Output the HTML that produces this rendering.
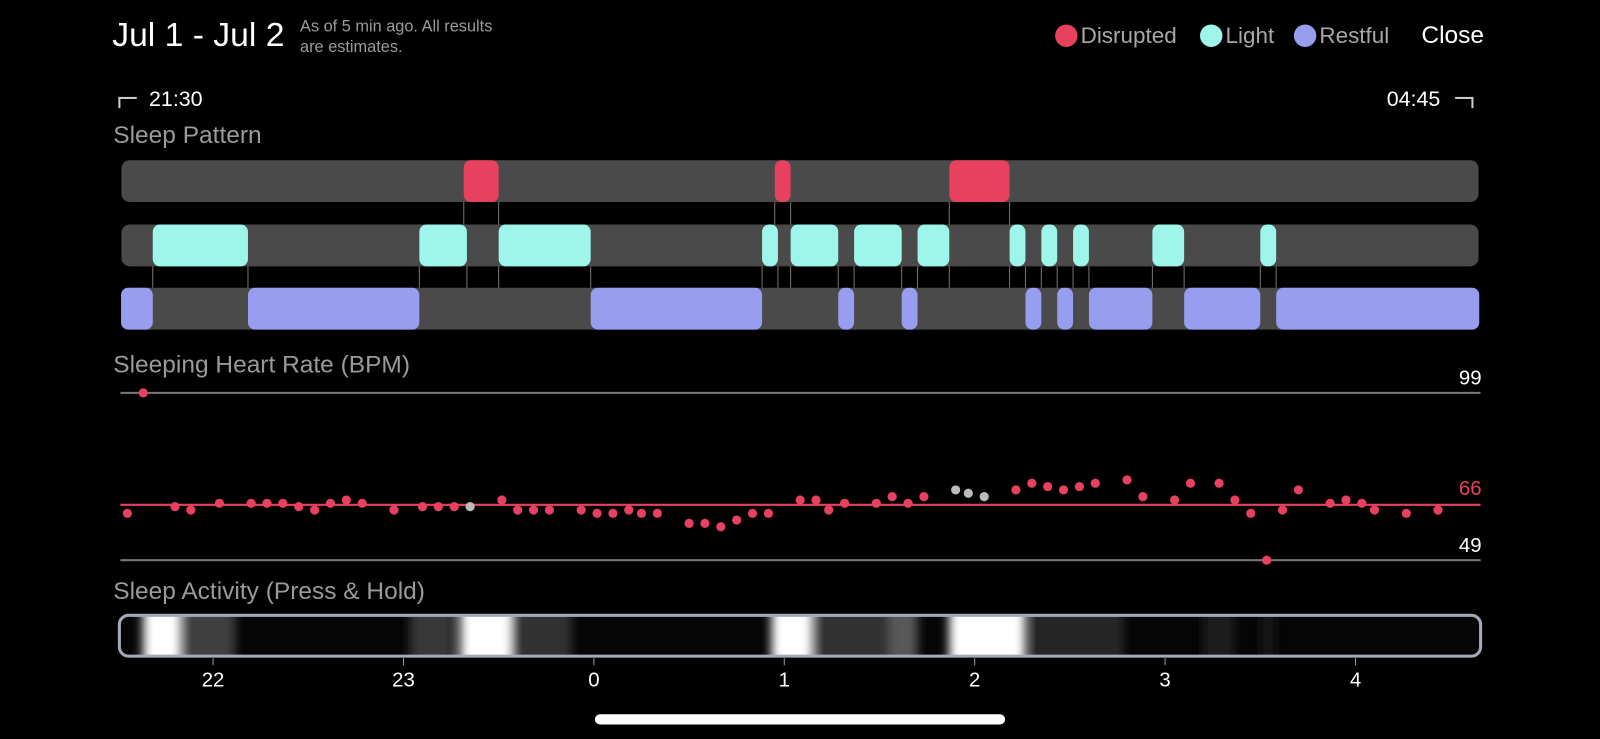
<!DOCTYPE html>
<html><head><meta charset="utf-8">
<style>
html,body{margin:0;padding:0;background:#000;}
body{width:1600px;height:739px;overflow:hidden;position:relative;font-family:"Liberation Sans",sans-serif;}
#wrap{position:absolute;left:0;top:0;width:1568px;height:724px;transform:scale(1.0204);transform-origin:0 0;}
.t{position:absolute;white-space:nowrap;}
</style></head>
<body>
<div id="wrap">
<div class="t" style="left:110px;top:15px;font-size:33px;color:#fff;">Jul 1 - Jul 2</div>
<div class="t" style="left:294px;top:17px;font-size:16px;line-height:20px;color:#9a9a9a;">As of 5 min ago. All results<br>are estimates.</div>
<div>
<div class="t" style="left:1034px;top:22px;font-size:22px;color:#a8a8a8;"><span style="display:inline-block;width:22px;height:22px;border-radius:50%;background:#e8405f;vertical-align:-4px;margin-right:3px"></span>Disrupted</div>
<div class="t" style="left:1176px;top:22px;font-size:22px;color:#a8a8a8;"><span style="display:inline-block;width:22px;height:22px;border-radius:50%;background:#9ef5e9;vertical-align:-4px;margin-right:3px"></span>Light</div>
<div class="t" style="left:1268px;top:22px;font-size:22px;color:#a8a8a8;"><span style="display:inline-block;width:22px;height:22px;border-radius:50%;background:#979def;vertical-align:-4px;margin-right:3px"></span>Restful</div>
</div>
<div class="t" style="left:1393px;top:21px;font-size:24px;color:#fff;">Close</div>
<div class="t" style="left:116px;top:86px;font-size:21px;color:#fff;"><span style="display:inline-block;width:16px;height:9px;border-top:2px solid #ccc;border-left:2px solid #ccc;margin-right:12px;vertical-align:-2px"></span>21:30</div>
<div class="t" style="left:1359px;top:86px;font-size:21px;color:#fff;">04:45<span style="display:inline-block;width:16px;height:9px;border-top:2px solid #ccc;border-right:2px solid #ccc;margin-left:14px;vertical-align:-2px"></span></div>
<div class="t" style="left:111px;top:119px;font-size:24px;color:#9a9a9a;">Sleep Pattern</div>
<div class="t" style="left:111px;top:344px;font-size:24px;color:#9a9a9a;">Sleeping Heart Rate (BPM)</div>
<div class="t" style="left:111px;top:566px;font-size:24px;color:#9a9a9a;">Sleep Activity (Press &amp; Hold)</div>
<svg id="chart" width="1568" height="724" style="position:absolute;left:0;top:0" xmlns="http://www.w3.org/2000/svg">
<defs>
<filter id="blurX" x="-5%" y="-20%" width="110%" height="140%"><feGaussianBlur stdDeviation="5 0"/></filter>
<clipPath id="barClip"><rect x="117" y="603" width="1334" height="40" rx="9"/></clipPath>
</defs>
</svg>
<div style="position:absolute;left:583px;top:700px;width:402px;height:10px;border-radius:5px;background:#fff"></div>
</div>
<script>
// minutes since 21:30
const disruptedStart=[109,207,262];
const disruptedEnd=[120,212,281];
const lightStart=[11,95,120,203,212,232,252,281,291,301,326,360];
const lightEnd=[41,110,149,208,227,247,262,286,296,306,336,365];
const restfulStart=[1,41,149,227,247,286,296,306,336,365];
const restfulEnd=[11,95,203,232,252,291,301,326,360,429];
const hrMinutes=[3,8,18,23,32,42,47,52,57,62,67,72,77,87,96,101,106,111,121,126,131,136,146,151,156,161,165,170,180,185,190,195,200,205,215,220,224,229,239,244,249,254,264,268,273,283,288,293,298,303,308,318,323,333,338,347,352,357,362,367,372,382,387,392,396,406,416];
const hrBpm=[63,99,65,64,66,66,66,66,65,64,66,67,66,64,65,65,65,65,67,64,64,64,64,63,63,64,63,63,60,60,59,61,63,63,67,67,64,66,66,68,66,68,70,69,68,70,72,71,70,71,72,73,68,67,72,72,67,63,49,64,70,66,67,66,64,63,64];
const hrEstimated=[17,42,43,44];
const activityStart=[8,21,92,108,124,206,220,243,262,288,342,360];
const activityEnd=[20,37,106,124,143,219,243,252,286,317,352,365];
const activityLevel=[1,0.25,0.22,1,0.2,1,0.2,0.35,1,0.15,0.1,0.08];
const axisHours=["22","23","0","1","2","3","4"];
const axisHourMinutes=[30,90,150,210,270,330,390];
const yMax=99, yMid=66, yMin=49;

const NS="http://www.w3.org/2000/svg";
const svg=document.getElementById('chart');
const X=m=>115.5+m*3.11;
const Y=b=>385+(yMax-b)*3.28;
function mk(tag,attrs,parent){const e=document.createElementNS(NS,tag);for(const k in attrs)e.setAttribute(k,attrs[k]);(parent||svg).appendChild(e);return e;}

const rowsY=[157,220,282];
rowsY.forEach((y,i)=>{
 const tr=mk('rect',{x:119,y:y,width:1330,height:41,rx:8,fill:'#4a4a4a'});
 
 
});
function conn(m,y1,y2){const l=mk('line',{x1:X(m),x2:X(m),y1:y1,y2:y2,stroke:'#777','stroke-width':1});
 
 }
disruptedStart.forEach((s,i)=>{conn(s,198,220);conn(disruptedEnd[i],198,220);});
lightStart.forEach((s,i)=>{conn(s,261,282);conn(lightEnd[i],261,282);});
function seg(starts,ends,y,color,name){starts.forEach((s,i)=>{
 const r=mk('rect',{x:X(s),y:y,width:X(ends[i])-X(s),height:41,rx:7,fill:color});
 
 });}
seg(disruptedStart,disruptedEnd,157,'#e8405f','disrupted-segment');
seg(lightStart,lightEnd,220,'#9ef5e9','light-segment');
seg(restfulStart,restfulEnd,282,'#979def','restful-segment');

[[yMax,'#777','99','#fff'],[yMid,'#e8405f','66','#e8405f'],[yMin,'#777','49','#fff']].forEach(([v,c,lab,tc])=>{
 const yy=Y(v)+(v===yMid?1.5:0);
 const l=mk('line',{x1:118,x2:1451,y1:yy,y2:yy,stroke:c,'stroke-width':2});
 
 
 const t=mk('text',{x:1452,y:Y(v)-8,'text-anchor':'end','font-size':20,fill:tc,'font-family':'Liberation Sans, sans-serif'});
 t.textContent=String(v);
 
 
});
hrMinutes.forEach((m,i)=>{
 const c=mk('circle',{cx:X(m),cy:Y(hrBpm[i]),r:4.5,fill:hrEstimated.includes(i)?'#bbbbbb':'#e8405f'});
 
 
});

const bg=mk('rect',{x:117,y:603,width:1334,height:40,rx:9,fill:'#050505'});


const clipG=mk('g',{'clip-path':'url(#barClip)'});
const blurG=mk('g',{filter:'url(#blurX)'},clipG);
activityStart.forEach((s,i)=>{
 const g=Math.round(activityLevel[i]*255);
 const r=mk('rect',{x:X(s),y:600,width:X(activityEnd[i])-X(s),height:46,fill:'rgb('+g+','+g+','+g+')'},blurG);
 
 
});
const ab=mk('rect',{x:117,y:603,width:1334,height:40,rx:9,fill:'none',stroke:'#a3abbb','stroke-width':3});


axisHours.forEach((h,i)=>{
 const x=X(axisHourMinutes[i]);
 const tk=mk('line',{x1:x,x2:x,y1:645,y2:652,stroke:'#999','stroke-width':1});
 
 
 const t=mk('text',{x:x,y:673,'text-anchor':'middle','font-size':20,fill:'#fff','font-family':'Liberation Sans, sans-serif'});
 t.textContent=h;
 
 
});
</script>
</body></html>
